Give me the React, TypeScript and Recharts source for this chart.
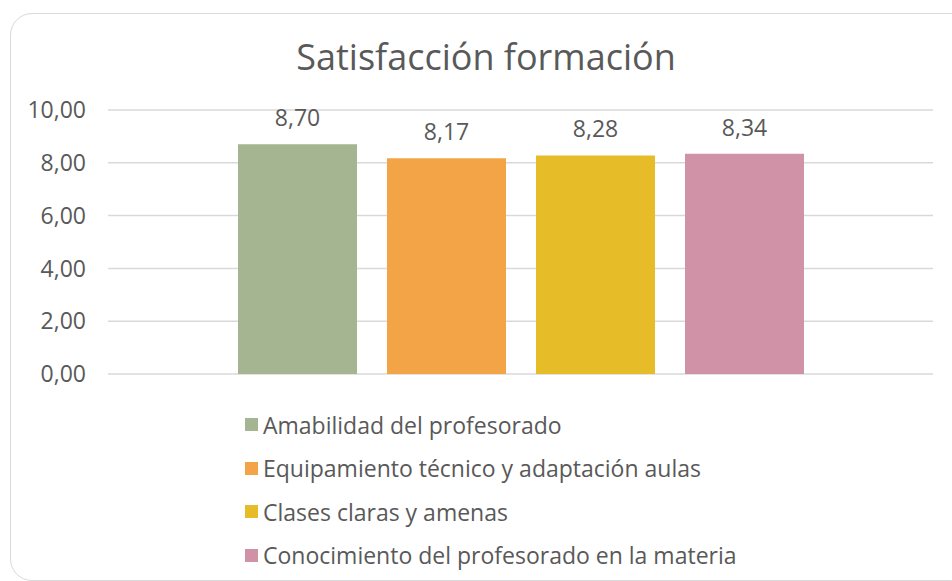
import React from 'react';
import { BarChart, Bar, XAxis, YAxis, CartesianGrid, LabelList } from 'recharts';

const categories = ['Satisfacción formación'];
const seriesNames = [
  'Amabilidad del profesorado',
  'Equipamiento técnico y adaptación aulas',
  'Clases claras y amenas',
  'Conocimiento del profesorado en la materia',
];
const seriesValues = [8.7, 8.17, 8.28, 8.34];
const seriesColors = ['#A5B592', '#F3A447', '#E7BC29', '#D092A7'];
const yTicks = [0, 2, 4, 6, 8, 10];

const data = categories.map((c) => {
  const row: Record<string, string | number> = { name: c };
  seriesNames.forEach((s, i) => {
    row[s] = seriesValues[i];
  });
  return row;
});

const FONT = '"Open Sans", "DejaVu Sans", sans-serif';
const TEXT = '#595959';

const fmt = (v: number) => Number(v).toFixed(2).replace('.', ',');

const App: React.FC = () => {
  return (
    <div style={{ position: 'fixed', left: 0, top: 0, width: 952, height: 581, background: '#fff', overflow: 'hidden' }}>
      <div
        style={{
          position: 'absolute',
          left: 10,
          top: 13,
          width: 960,
          height: 566,
          border: '1.5px solid #d9d9d9',
          borderRadius: 22,
        }}
      />
      <div
        style={{
          position: 'absolute',
          left: 0,
          width: 972,
          top: 32,
          textAlign: 'center',
          fontFamily: FONT,
          fontSize: 36,
          lineHeight: '50px',
          color: TEXT,
        }}
      >
        Satisfacción formación
      </div>
      <div style={{ position: 'absolute', left: 0, top: 0 }}>
        <BarChart
          width={952}
          height={581}
          data={data}
          margin={{ top: 110, right: 19, left: 0, bottom: 207 }}
          barGap={30}
          barSize={119}
        >
          <CartesianGrid vertical={false} stroke="#d9d9d9" strokeWidth={1.5} />
          <XAxis dataKey="name" hide />
          <YAxis
            width={108}
            domain={[0, 10]}
            ticks={yTicks}
            tickFormatter={fmt}
            axisLine={false}
            tickLine={false}
            tickSize={0}
            tickMargin={22}
            tick={{ fill: TEXT, fontSize: 23, fontFamily: FONT }}
          />
          {seriesNames.map((s, i) => (
            <Bar key={s} dataKey={s} fill={seriesColors[i]} isAnimationActive={false}>
              <LabelList
                dataKey={s}
                position="top"
                offset={18}
                formatter={(v: number) => fmt(v)}
                style={{ fill: TEXT, fontSize: 23, fontFamily: FONT }}
              />
            </Bar>
          ))}
        </BarChart>
      </div>
      <div style={{ position: 'absolute', left: 245, top: 403, fontFamily: FONT, fontSize: 23, color: TEXT }}>
        {seriesNames.map((s, i) => (
          <div key={s} style={{ display: 'flex', alignItems: 'center', height: 43.5, whiteSpace: 'nowrap' }}>
            <span style={{ width: 13, height: 13, background: seriesColors[i], marginRight: 5, display: 'inline-block', flexShrink: 0 }} />
            <span>{s}</span>
          </div>
        ))}
      </div>
    </div>
  );
};

export default App;
